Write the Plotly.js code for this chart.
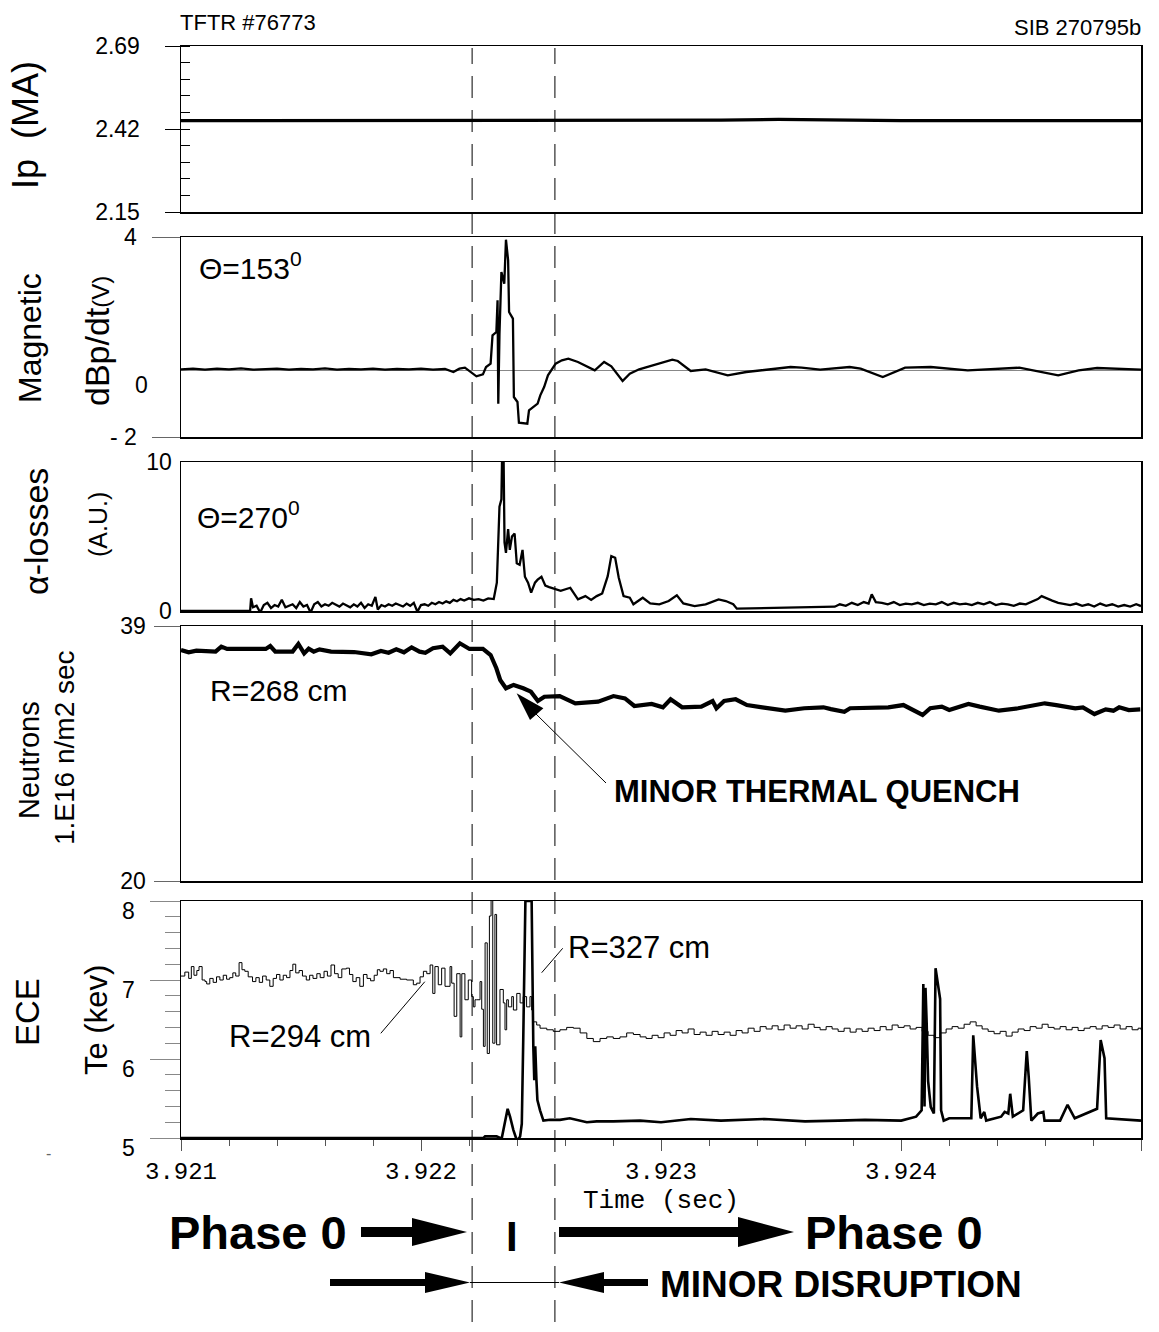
<!DOCTYPE html>
<html><head><meta charset="utf-8">
<script src="https://cdn.plot.ly/plotly-3.0.1.min.js"></script>
<style>html,body{margin:0;padding:0;background:#fff}</style>
</head><body><div id="chart" style="width:1159px;height:1332px"></div>
<script>
// ---------------- DATA ----------------
const timeRange = [3.921, 3.925];
const phaseBoundaries = [3.922213, 3.922558];

const ipTime  = [3.921000, 3.923000, 3.923250, 3.923490, 3.923750, 3.924000, 3.925000];
const ipValue = [2.447, 2.447, 2.449, 2.451, 2.449, 2.447, 2.447];

const magTime = [3.921000,3.921050,3.921100,3.921150,3.921200,3.921250,3.921300,3.921350,3.921400,3.921450,3.921500,3.921550,3.921600,3.921650,3.921700,3.921750,3.921800,3.921850,3.921900,3.921950,3.922000,3.922050,3.922100,
 3.922135,3.922160,3.922183,3.922207,3.922231,3.922258,3.922271,3.922290,3.922298,3.922314,3.922319,3.922322,3.922327,3.922335,3.922347,3.922354,3.922363,3.922367,3.922383,3.922387,3.922402,3.922408,3.922443,3.922450,3.922470,3.922486,3.922497,3.922513,3.922529,3.922542,3.922561,3.922587,3.922614,3.922654,
 3.922724,3.922763,3.922793,3.922840,3.922870,3.922909,3.922970,3.923047,3.923070,3.923124,3.923186,3.923278,3.923355,3.923432,3.923540,3.923586,3.923663,3.923786,3.923832,3.923924,3.924017,3.924124,3.924278,3.924493,3.924586,3.924655,3.924740,3.924817,3.925000];
const magValue = [0.03,0.05,0.02,0.05,0.03,0.06,0.02,0.04,0.05,0.02,0.04,0.03,0.06,0.02,0.04,0.03,0.05,0.02,0.04,0.03,0.05,0.02,0.04,
 -0.05,0.05,0.08,-0.05,-0.18,-0.12,0.10,0.20,1.05,1.15,2.10,-1.00,1.10,2.95,2.60,3.92,3.30,1.75,1.55,-0.80,-0.95,-1.57,-1.60,-1.20,-1.08,-1.00,-0.75,-0.50,-0.15,0.00,0.20,0.30,0.35,0.25,
 0.00,0.25,0.12,-0.32,-0.10,0.03,0.15,0.32,0.28,-0.02,0.03,-0.15,-0.05,0.02,0.10,0.08,0.02,0.10,0.05,-0.20,0.08,0.10,0.00,0.08,-0.05,-0.15,0.00,0.07,0.02];

const alphaTime = [3.921000,3.921288,
 3.921292,3.921300,3.921315,3.921330,3.921345,3.921360,3.921375,3.921390,3.921405,3.921420,3.921435,3.921450,3.921465,3.921480,3.921495,3.921510,3.921525,3.921540,3.921555,3.921570,3.921585,3.921600,3.921615,3.921630,3.921645,3.921660,3.921675,3.921690,3.921705,3.921720,3.921735,3.921750,3.921765,3.921780,3.921795,3.921810,3.921820,3.921835,3.921850,3.921865,3.921880,3.921895,3.921910,3.921925,3.921940,3.921955,3.921970,3.921985,3.922000,3.922015,3.922030,3.922045,3.922060,3.922075,3.922090,3.922105,3.922120,3.922135,3.922150,3.922165,3.922180,3.922200,3.922220,3.922240,3.922260,3.922280,3.922303,
 3.922316,3.922327,3.922335,3.922338,3.922344,3.922348,3.922354,3.922363,3.922370,3.922379,3.922390,3.922399,3.922411,3.922423,3.922433,3.922446,3.922459,3.922475,3.922486,3.922502,3.922518,3.922534,3.922558,3.922582,3.922622,3.922654,
 3.922685,3.922709,3.922732,3.922755,3.922778,3.922793,3.922809,3.922824,3.922844,3.922870,3.922885,3.922924,3.922955,3.922993,3.923032,3.923066,3.923093,3.923140,3.923186,3.923240,3.923270,3.923301,3.923316,
 3.923724,3.923745,3.923770,3.923795,3.923820,3.923845,3.923865,3.923878,3.923895,3.923920,3.923945,3.923970,3.923995,3.924020,3.924045,3.924070,3.924095,3.924120,3.924145,3.924170,3.924195,3.924220,3.924245,3.924270,3.924295,3.924320,3.924345,3.924370,3.924395,3.924420,3.924445,3.924470,3.924495,3.924520,3.924545,3.924570,3.924586,3.924605,3.924630,3.924655,3.924680,3.924705,3.924730,3.924755,3.924780,3.924805,3.924830,3.924855,3.924880,3.924905,3.924930,3.924955,3.924980,3.925000];
const alphaValue = [0,0,
 0.85,0.25,0.35,-0.10,0.40,0.55,0.20,0.40,0.30,0.75,0.25,0.35,0.45,0.20,0.60,0.30,0.40,-0.10,0.45,0.60,0.30,0.45,0.35,0.55,0.40,0.30,0.50,0.35,0.25,0.45,0.30,0.55,0.20,0.45,0.35,0.95,0.10,0.40,0.30,0.45,0.35,0.50,0.40,0.30,0.50,0.35,0.55,-0.05,0.40,0.45,0.35,0.55,0.45,0.60,0.50,0.65,0.55,0.75,0.65,0.80,0.70,0.85,0.75,0.80,0.70,0.85,0.80,
 1.90,7.00,7.50,10.5,10.5,4.60,3.90,5.50,4.10,5.00,5.20,3.20,3.10,4.10,2.30,1.90,1.23,1.90,2.10,2.30,1.70,1.60,1.45,1.35,1.56,0.78,
 1.00,0.74,1.00,1.18,2.34,3.68,3.57,2.23,1.00,0.89,0.45,0.89,0.51,0.45,0.67,1.05,0.51,0.33,0.45,0.78,0.67,0.45,0.16,
 0.29,0.45,0.35,0.55,0.40,0.60,0.50,1.12,0.60,0.55,0.45,0.60,0.40,0.50,0.45,0.55,0.40,0.50,0.45,0.60,0.40,0.55,0.45,0.50,0.40,0.55,0.45,0.60,0.40,0.50,0.45,0.35,0.50,0.45,0.60,0.80,1.00,0.85,0.70,0.55,0.50,0.40,0.50,0.35,0.45,0.30,0.50,0.35,0.45,0.30,0.40,0.30,0.45,0.33];

const neutronTime = [3.921000,3.921032,3.921064,3.921144,3.921168,3.921192,3.921353,3.921372,3.921393,3.921465,3.921489,3.921513,3.921532,3.921553,3.921577,3.921625,3.921721,3.921793,3.921833,3.921865,3.921897,3.921929,3.921961,3.921994,3.922018,3.922050,3.922090,3.922122,3.922162,3.922202,3.922258,3.922290,3.922314,3.922330,3.922354,3.922386,3.922426,3.922458,3.922487,3.922514,3.922578,
 3.922643,3.922738,3.922802,3.922850,3.922889,3.922961,3.923008,3.923040,3.923088,3.923168,3.923215,3.923231,3.923263,3.923311,3.923358,3.923422,3.923518,3.923597,3.923677,3.923708,3.923764,3.923788,3.923851,3.923947,3.924010,3.924090,3.924122,3.924170,3.924201,3.924281,3.924328,3.924408,3.924488,3.924599,3.924647,3.924726,3.924758,3.924806,3.924853,3.924885,3.924909,3.924949,3.924997];
const neutronValue = [37.21,37.04,37.16,37.09,37.46,37.29,37.29,37.51,37.09,37.09,37.66,36.96,37.31,37.09,37.26,37.09,37.06,36.89,37.14,37.01,37.26,37.04,37.41,37.09,37.01,37.34,37.46,36.96,37.71,37.29,37.29,36.84,35.85,34.98,34.36,34.61,34.36,34.11,33.41,33.73,33.78,
 33.24,33.36,33.78,33.61,33.04,33.19,32.94,33.54,32.94,32.99,33.41,32.87,33.41,33.54,33.11,32.94,32.69,32.87,32.94,32.81,32.61,32.87,32.87,32.94,33.11,32.37,32.87,32.99,32.74,33.19,32.99,32.69,32.87,33.24,33.11,32.87,32.94,32.44,32.79,32.69,32.94,32.74,32.79];

// ECE R=294 cm (thin trace)
const ece294Time = [3.921000,3.921016,3.921032,3.921043,3.921054,3.921066,3.921075,3.921088,3.921100,3.921107,3.921120,3.921134,3.921148,3.921162,3.921176,3.921190,3.921203,3.921216,3.921228,3.921242,3.921254,3.921266,3.921280,3.921298,3.921312,3.921326,3.921340,3.921355,3.921370,3.921384,3.921398,3.921412,3.921426,3.921440,3.921454,3.921466,3.921478,3.921492,3.921506,3.921522,3.921536,3.921550,3.921566,3.921580,3.921596,3.921610,3.921625,3.921640,3.921655,3.921670,3.921689,3.921702,3.921716,3.921730,3.921745,3.921760,3.921775,3.921790,3.921805,3.921818,
 3.921829,3.921843,3.921857,3.921871,3.921885,3.921913,3.921940,3.921968,3.921982,3.921996,3.922010,3.922024,3.922038,3.922049,3.922058,3.922072,3.922086,3.922100,3.922121,3.922128,3.922138,3.922149,3.922163,3.922170,3.922183,3.922197,3.922211,3.922218,3.922225,3.922232,3.922246,3.922253,3.922260,3.922267,3.922276,3.922285,3.922292,3.922299,3.922308,3.922315,3.922329,3.922343,3.922350,3.922357,3.922364,3.922378,3.922385,3.922399,3.922413,3.922426,3.922440,3.922454,3.922461,3.922468,3.922482,3.922496,3.922524,3.922551,3.922579,3.922607,3.922635,3.922663,3.922691,3.922718,3.922746,3.922774,3.922801,3.922829,3.922857,3.922885,3.922913,
 3.922938,3.922963,3.922988,3.923013,3.923038,3.923063,3.923088,3.923113,3.923138,3.923163,3.923188,3.923213,3.923238,3.923263,3.923288,3.923313,3.923338,3.923363,3.923388,3.923413,3.923438,3.923463,3.923488,3.923513,3.923538,3.923563,3.923588,3.923613,3.923638,3.923663,3.923688,3.923713,3.923738,3.923763,3.923788,3.923813,3.923838,3.923863,3.923888,3.923913,3.923938,3.923963,3.923988,3.924013,3.924038,3.924063,3.924088,3.924113,3.924138,3.924163,3.924188,3.924213,3.924238,3.924263,3.924288,3.924313,3.924338,3.924363,3.924388,3.924413,3.924438,3.924463,3.924488,3.924513,3.924538,3.924563,3.924588,3.924613,3.924638,3.924663,3.924688,3.924713,3.924738,3.924763,3.924788,3.924813,3.924838,3.924863,3.924888,3.924913,3.924938,3.924963,3.924988,3.925000];
const ece294Value = [7.05,7.10,7.02,7.17,7.06,7.12,7.17,7.00,6.98,6.95,7.02,6.97,7.04,7.00,7.06,7.01,7.03,7.09,7.05,7.22,7.13,7.11,7.04,6.98,7.03,6.97,7.05,7.00,6.92,7.02,7.07,7.00,7.06,7.03,7.12,7.20,7.09,7.12,7.05,7.00,7.06,7.02,7.08,7.03,7.11,7.05,7.19,7.08,7.03,7.14,7.15,7.07,6.98,7.03,6.92,7.07,7.02,6.99,7.06,7.13,
 7.11,7.14,7.08,7.12,7.03,7.01,7.00,6.94,6.96,7.04,7.11,7.08,7.19,6.83,7.17,6.94,7.15,6.92,7.17,6.96,6.54,7.08,6.28,7.08,6.75,7.00,6.79,6.66,6.75,6.75,6.98,6.63,6.16,7.47,6.07,7.81,8.10,6.20,7.83,6.18,6.88,6.71,6.37,6.75,6.66,6.79,6.62,6.83,6.71,6.79,6.66,6.79,6.62,6.47,6.43,6.39,6.37,6.35,6.37,6.40,6.39,6.33,6.26,6.22,6.26,6.28,6.26,6.28,6.33,6.31,6.28,
 6.26,6.30,6.27,6.33,6.30,6.36,6.33,6.38,6.31,6.34,6.30,6.35,6.31,6.34,6.30,6.36,6.33,6.39,6.35,6.41,6.38,6.42,6.37,6.43,6.39,6.42,6.38,6.44,6.40,6.37,6.41,6.38,6.35,6.39,6.34,6.38,6.35,6.39,6.36,6.41,6.37,6.43,6.40,6.42,6.38,6.40,6.35,6.30,6.27,6.33,6.38,6.41,6.39,6.44,6.47,6.42,6.38,6.35,6.32,6.35,6.29,6.34,6.38,6.36,6.41,6.39,6.44,6.40,6.38,6.41,6.37,6.40,6.36,6.39,6.41,6.38,6.42,6.40,6.43,6.38,6.41,6.37,6.39,6.37];

// ECE R=327 cm (thick trace)
const ece327Time = [3.921000,3.921500,3.922000,3.922260,3.922267,3.922315,3.922336,3.922350,3.922361,3.922371,3.922378,3.922385,3.922396,3.922403,3.922413,3.922420,3.922426,3.922430,3.922435,3.922461,3.922464,3.922468,3.922472,3.922476,3.922481,3.922485,3.922496,3.922510,3.922538,3.922579,3.922620,3.922663,3.922691,3.922732,3.922801,3.922913,3.923000,3.923124,3.923250,3.923432,3.923600,3.923740,3.923850,3.924001,3.924063,3.924086,3.924093,3.924098,3.924102,3.924107,3.924113,3.924124,3.924137,3.924144,3.924163,3.924167,3.924178,3.924201,3.924293,3.924301,3.924317,3.924332,3.924347,3.924355,3.924417,3.924432,3.924447,3.924455,3.924466,3.924509,3.924524,3.924532,3.924543,3.924570,3.924593,3.924598,3.924663,3.924694,3.924724,3.924817,3.924832,3.924848,3.924855,3.925000];
const ece327Value = [5.00,5.00,5.00,5.00,5.02,5.02,4.99,5.20,5.37,5.27,5.18,5.10,5.00,4.97,5.02,5.18,6.24,6.88,8.00,8.00,6.62,6.16,5.73,6.16,5.73,5.48,5.35,5.22,5.23,5.23,5.25,5.22,5.20,5.21,5.21,5.22,5.20,5.24,5.22,5.24,5.21,5.22,5.23,5.22,5.27,5.35,6.95,5.40,6.90,6.45,5.72,5.39,5.31,7.15,6.76,5.35,5.22,5.25,5.25,6.30,5.65,5.25,5.33,5.22,5.27,5.33,5.31,5.56,5.27,5.35,6.10,5.78,5.22,5.31,5.33,5.22,5.22,5.42,5.25,5.37,6.24,6.01,5.25,5.22];

// axis tick labels
const ipTicks = [2.15, 2.42, 2.69];
const magTicks = [-2, 4];
const magTickText = ['- 2', '4'];
const alphaTicks = [0, 10];
const neutronTicks = [20, 39];
const eceTicks = [5, 6, 7, 8];

// ---------------- LAYOUT ----------------
const W = 1159, H = 1332, ML = 181, MR = 18;
const PX = x => (x - ML) / (W - ML - MR);
const PY = y => 1 - y / H;
const FONT = 'Liberation Sans, Arial, Helvetica, sans-serif';
const MONO = 'Liberation Mono, Courier New, monospace';

const panels = [[46,212],[237,437],[462,611],[626,881],[901,1138]];
const dom = i => [PY(panels[i][1]), PY(panels[i][0])];

const traces = [
  {x: ipTime, y: ipValue, xaxis:'x', yaxis:'y', mode:'lines', line:{color:'#000', width:3.2}},
  {x: magTime, y: magValue, xaxis:'x2', yaxis:'y2', mode:'lines', line:{color:'#000', width:2.3}},
  {x: alphaTime, y: alphaValue, xaxis:'x3', yaxis:'y3', mode:'lines', line:{color:'#000', width:2.3}},
  {x: neutronTime, y: neutronValue, xaxis:'x4', yaxis:'y4', mode:'lines', line:{color:'#000', width:4.2}},
  {x: ece294Time, y: ece294Value, xaxis:'x5', yaxis:'y5', mode:'lines', line:{color:'#000', width:1, shape:'hv'}},
  {x: ece327Time, y: ece327Value, xaxis:'x5', yaxis:'y5', mode:'lines', line:{color:'#000', width:2.6}}
];

function boxX(anchor) {
  return {domain:[0,1], range: timeRange, matches:'x5', anchor: anchor, showticklabels:false, ticks:'',
          showline:true, mirror:true, linecolor:'#000', linewidth:1.5, showgrid:false, zeroline:false};
}
const baseY = {showline:true, mirror:true, linecolor:'#000', linewidth:1.5, showgrid:false, zeroline:false,
               tickfont:{family:FONT, size:23, color:'#000'}};

const layout = {
  width: W, height: H, margin:{l:ML, r:MR, t:0, b:0}, paper_bgcolor:'#fff', plot_bgcolor:'#fff',
  showlegend:false, font:{family:FONT, color:'#000'},
  xaxis: boxX('y'), xaxis2: boxX('y2'), xaxis3: boxX('y3'), xaxis4: boxX('y4'),
  xaxis5: {domain:[0,1], range: timeRange, anchor:'y5', showline:true, mirror:true, linecolor:'#000', linewidth:1.5,
           showgrid:false, zeroline:false, ticks:'outside', ticklen:11, tickwidth:1, tickcolor:'#555',
           tick0:3.921, dtick:0.001, tickformat:'.3f', tickfont:{family:MONO, size:24, color:'#000'},
           minor:{ticks:'outside', ticklen:6, tickwidth:1, tickcolor:'#555', tick0:3.921, dtick:0.0002},
           title:{text:'Time (sec)', font:{family:MONO, size:26, color:'#000'}, standoff:4}},
  yaxis: Object.assign({}, baseY, {domain: dom(0), range:[2.15,2.69], anchor:'x', tickvals: ipTicks,
           ticktext: ipTicks.map(v=>v.toFixed(2)), ticks:'outside', ticklen:15, tickcolor:'#000',
           ticklabelstandoff:20,
           minor:{ticks:'inside', ticklen:9, tickcolor:'#000', tick0:2.15, dtick:0.054}}),
  yaxis2: Object.assign({}, baseY, {domain: dom(1), range:[-2,4], anchor:'x2', tickvals: magTicks, ticktext: magTickText,
           ticks:'outside', ticklen:28, tickcolor:'#666', ticklabelstandoff:10,
           zeroline:true, zerolinecolor:'#888', zerolinewidth:1}),
  yaxis3: Object.assign({}, baseY, {domain: dom(2), range:[0,10], anchor:'x3', tickvals: alphaTicks,
           ticks:'', ticklabelstandoff:3}),
  yaxis4: Object.assign({}, baseY, {domain: dom(3), range:[20,39], anchor:'x4', tickvals: neutronTicks,
           ticks:'outside', ticklen:26, tickcolor:'#666', ticklabelstandoff:3}),
  yaxis5: Object.assign({}, baseY, {domain: dom(4), range:[5,8], anchor:'x5', tickvals: eceTicks,
           ticks:'outside', ticklen:30, tickcolor:'#888', ticklabelstandoff:10, ticklabelshift:10,
           minor:{ticks:'outside', ticklen:15, tickcolor:'#888', tick0:5, dtick:0.2}})
};

function ann(text, xp, yp, size, opts) {
  return Object.assign({text: text, x: PX(xp), y: PY(yp), xref:'paper', yref:'paper', showarrow:false,
          font:{family:FONT, size:size, color:'#000'}, xanchor:'center', yanchor:'middle'}, opts || {});
}
const rot = {textangle:-90};
layout.annotations = [
  ann('TFTR #76773', 178, 23, 22, {xanchor:'left'}),
  ann('SIB 270795b', 1143, 27, 22, {xanchor:'right'}),
  ann('Ip  (MA)', 26, 125, 36, rot),
  ann('Magnetic', 30, 338, 32, rot),
  ann('dBp/dt<span style="font-size:24px">(V)</span>', 97, 341, 34, rot),
  ann('α-losses', 36, 532, 34, rot),
  ann('(A.U.)', 98, 525, 25, rot),
  ann('Neutrons', 29, 760, 29, rot),
  ann('1.E16 n/m2 sec', 64, 748, 28, rot),
  ann('ECE', 27, 1012, 33, rot),
  ann('Te (kev)', 97, 1020, 31, rot),
  {text:'0', x: PX(133), xref:'paper', y:0, yref:'y2', yshift:-15, showarrow:false, font:{family:FONT, size:23, color:'#000'}},
  ann('-', 48, 1153, 16, {font:{family:FONT, size:16, color:'#666'}}),
  ann('Θ=153<sup>0</sup>', 197, 266, 30, {xanchor:'left'}),
  ann('Θ=270<sup>0</sup>', 195, 515, 30, {xanchor:'left'}),
  ann('R=268 cm', 208, 690, 30, {xanchor:'left'}),
  ann('R=294 cm', 227, 1036, 31, {xanchor:'left'}),
  ann('R=327 cm', 566, 948, 31, {xanchor:'left'}),
  ann('<b>MINOR THERMAL QUENCH</b>', 612, 791, 31, {xanchor:'left'}),
  ann('<b>Phase 0</b>', 258, 1232, 47),
  ann('<b>I</b>', 512, 1236, 42),
  ann('<b>Phase 0</b>', 894, 1232, 47),
  ann('<b>MINOR DISRUPTION</b>', 658, 1284, 37, {xanchor:'left'})
];

function pathShape(pts) {
  return {type:'path', xref:'paper', yref:'paper', fillcolor:'#000', line:{width:0},
          path: 'M ' + pts.map(p => PX(p[0]) + ',' + PY(p[1])).join(' L ') + ' Z'};
}
function rectShape(x0, x1, y0, y1) {
  return {type:'rect', xref:'paper', yref:'paper', x0:PX(x0), x1:PX(x1), y0:PY(y1), y1:PY(y0), fillcolor:'#000', line:{width:0}};
}
function lineShape(x0, y0, x1, y1, w) {
  return {type:'line', xref:'paper', yref:'paper', x0:PX(x0), y0:PY(y0), x1:PX(x1), y1:PY(y1), line:{color:'#000', width:w||1}};
}

layout.shapes = [
  ...phaseBoundaries.map(t => ({type:'line', xref:'x5', yref:'paper', x0:t, x1:t, y0:PY(1322), y1:PY(48),
        line:{color:'#000', width:1, dash:'22px,12px'}})),
  // Phase arrows
  rectShape(361, 414, 1227, 1237), pathShape([[412,1218],[467,1232],[412,1246]]),
  rectShape(559, 740, 1227, 1237), pathShape([[738,1217],[794,1232],[738,1247]]),
  rectShape(330, 430, 1279, 1286), pathShape([[425,1272],[470,1282.5],[425,1293]]),
  lineShape(470, 1282.5, 559, 1282.5, 1),
  pathShape([[559,1282.5],[604,1272],[604,1293]]), rectShape(602, 648, 1279, 1286),
  // thermal quench arrow
  lineShape(606, 783, 535, 713, 1),
  pathShape([[516.6,693.3],[530,720],[543.4,708.3]]),
  // leader lines
  lineShape(380.8, 1033.3, 424.8, 981.7, 1),
  lineShape(541.7, 972.7, 562.7, 948.3, 1)
];

Plotly.newPlot('chart', traces, layout, {displayModeBar:false, staticPlot:true});
</script></body></html>
